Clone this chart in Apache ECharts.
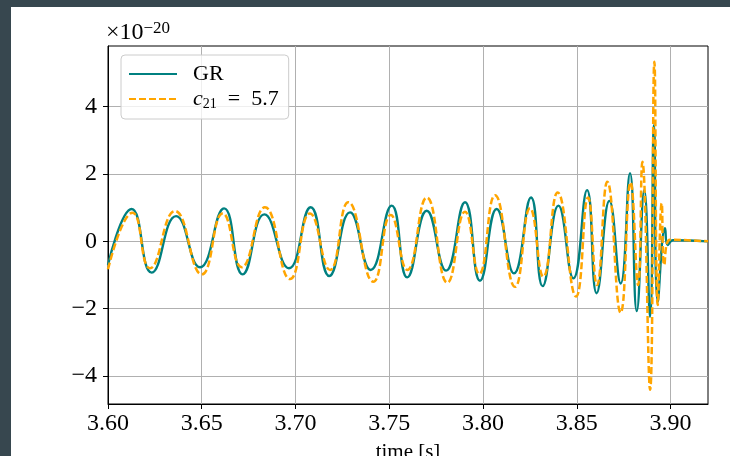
<!DOCTYPE html>
<html>
<head>
<meta charset="utf-8">
<script src="https://cdn.jsdelivr.net/npm/echarts@6/dist/echarts.min.js"></script>
<style>
html, body { margin: 0; padding: 0; background: #37474f; }
#main { width: 730px; height: 456px; }
</style>
</head>
<body>
<div id="main"></div>
<script>
// strain in units of 1e-20, time in s (extrema)
var grTime = [3.6000, 3.6126, 3.6233, 3.6363, 3.6491, 3.6619, 3.6718, 3.6834, 3.6965, 3.7081,
	3.7180, 3.7291, 3.7401, 3.7513, 3.7596, 3.7700, 3.7803, 3.7904, 3.7984, 3.8073,
	3.8165, 3.8256, 3.8318, 3.8402, 3.8482, 3.8555, 3.8606, 3.8674, 3.8734, 3.8784,
	3.8820, 3.8860, 3.8891, 3.8912, 3.8932, 3.8971, 3.8985, 3.9013, 3.9200];
var grStrain = [-0.70, 0.96, -0.93, 0.75, -0.77, 0.98, -0.98, 0.80, -0.80, 1.01,
	-1.03, 0.86, -0.85, 1.06, -1.07, 0.91, -0.87, 1.16, -1.17, 0.96,
	-0.95, 1.30, -1.33, 1.06, -1.10, 1.52, -1.54, 1.20, -1.25, 2.02,
	-2.07, 1.52, -2.24, 3.45, -1.79, 0.39, -0.11, 0.03, 0.00];

var c21Time = [3.6000, 3.6131, 3.6224, 3.6357, 3.6500, 3.6612, 3.6713, 3.6837, 3.6971, 3.7077,
	3.7184, 3.7282, 3.7415, 3.7508, 3.7596, 3.7700, 3.7810, 3.7904, 3.7980, 3.8064,
	3.8171, 3.8251, 3.8322, 3.8398, 3.8496, 3.8560, 3.8608, 3.8663, 3.8734, 3.8787,
	3.8827, 3.8850, 3.8891, 3.8914, 3.8932, 3.8953, 3.8967, 3.8997, 3.9200];
var c21Strain = [-0.83, 0.85, -0.80, 0.90, -0.98, 0.83, -0.77, 1.01, -1.12, 0.83,
	-0.85, 1.16, -1.20, 0.78, -0.85, 1.30, -1.23, 0.88, -0.97, 1.37,
	-1.35, 0.98, -1.05, 1.45, -1.64, 1.30, -1.30, 1.77, -2.12, 1.75,
	-1.30, 2.36, -4.41, 5.33, -1.89, 1.13, -0.70, 0.05, 0.00];

var xTicks = [3.60, 3.65, 3.70, 3.75, 3.80, 3.85, 3.90];
var yTicks = [-4, -2, 0, 2, 4];

var serif = '"Liberation Serif", "DejaVu Serif", serif';

function pairs(t, v) {
	var out = [];
	for (var i = 0; i < t.length; i++) {
		out.push([t[i], v[i]]);
	}
	return out;
}

function yLabel(val) {
	if (val < 0) {
		return '\u2212' + (-val);
	}
	return String(val);
}

var chart = echarts.init(document.getElementById('main'), null, { renderer: 'canvas' });

var option = {
	animation: false,
	backgroundColor: '#37474f',
	graphic: {
		elements: [
			{
				type: 'rect', z: -100, silent: true,
				shape: { x: 11, y: 7, width: 719, height: 449 },
				style: { fill: '#ffffff' }
			},
			{
				type: 'text', left: 106, top: 20, silent: true,
				style: {
					text: '{a|\u00d710}{b|\u221220}',
					rich: {
						a: { fontFamily: serif, fontSize: 24, lineHeight: 26, fill: '#000' },
						b: { fontFamily: serif, fontSize: 17, lineHeight: 17, verticalAlign: 'top', fill: '#000' }
					}
				}
			}
		]
	},
	grid: {
		left: 108, right: 22, top: 46, bottom: 52,
		outerBoundsMode: 'none',
		show: true,
		borderColor: '#000',
		borderWidth: 1,
		backgroundColor: 'transparent'
	},
	legend: {
		orient: 'vertical',
		left: 121, top: 55,
		padding: [8, 10, 8, 7],
		itemWidth: 48, itemHeight: 14, itemGap: 3,
		backgroundColor: 'rgba(255,255,255,0.8)',
		borderColor: '#cccccc', borderWidth: 1, borderRadius: 4,
		itemStyle: { opacity: 0 },
		data: ['GR', 'c21 = 5.7'],
		formatter: function (name) {
			if (name == 'GR') {
				return '{r|GR}';
			}
			return '{i|c}{s|21}{r|  =  5.7}';
		},
		textStyle: {
			padding: [0, 0, 0, 11],
			rich: {
				r: { fontFamily: serif, fontSize: 22, lineHeight: 24, color: '#000' },
				i: { fontFamily: serif, fontStyle: 'italic', fontSize: 22, lineHeight: 24, color: '#000' },
				s: { fontFamily: serif, fontSize: 14, lineHeight: 13, verticalAlign: 'bottom', color: '#000' }
			}
		}
	},
	xAxis: {
		type: 'value',
		min: 3.60, max: 3.92,
		name: 'time [s]',
		nameLocation: 'middle',
		nameGap: 38,
		nameTextStyle: { fontFamily: serif, fontSize: 21, color: '#000' },
		axisLine: { show: true, onZero: false, lineStyle: { color: '#000', width: 1 } },
		axisTick: { show: true, inside: false, length: 5, customValues: xTicks, lineStyle: { color: '#000' } },
		axisLabel: {
			customValues: xTicks, margin: 8,
			fontFamily: serif, fontSize: 24, color: '#000',
			formatter: function (v) { return v.toFixed(2); }
		},
		splitLine: { show: true, lineStyle: { color: '#b0b0b0', width: 1 } }
	},
	yAxis: {
		type: 'value',
		min: -4.83, max: 5.80,
		axisLine: { show: true, onZero: false, lineStyle: { color: '#000', width: 1 } },
		axisTick: { show: true, inside: false, length: 5, customValues: yTicks, lineStyle: { color: '#000' } },
		axisLabel: {
			customValues: yTicks, margin: 11,
			fontFamily: serif, fontSize: 24, color: '#000',
			formatter: yLabel
		},
		splitLine: { show: true, lineStyle: { color: '#b0b0b0', width: 1 } }
	},
	series: [
		{
			name: 'GR',
			type: 'line',
			smooth: true,
			symbol: 'none',
			showSymbol: false,
			data: pairs(grTime, grStrain),
			lineStyle: { color: '#008080', width: 2.4 },
			itemStyle: { color: '#008080' }
		},
		{
			name: 'c21 = 5.7',
			type: 'line',
			smooth: true,
			symbol: 'none',
			showSymbol: false,
			data: pairs(c21Time, c21Strain),
			lineStyle: { color: '#ffa500', width: 2.5, type: [7, 3] },
			itemStyle: { color: '#ffa500' }
		}
	]
};

chart.setOption(option);
</script>
</body>
</html>
